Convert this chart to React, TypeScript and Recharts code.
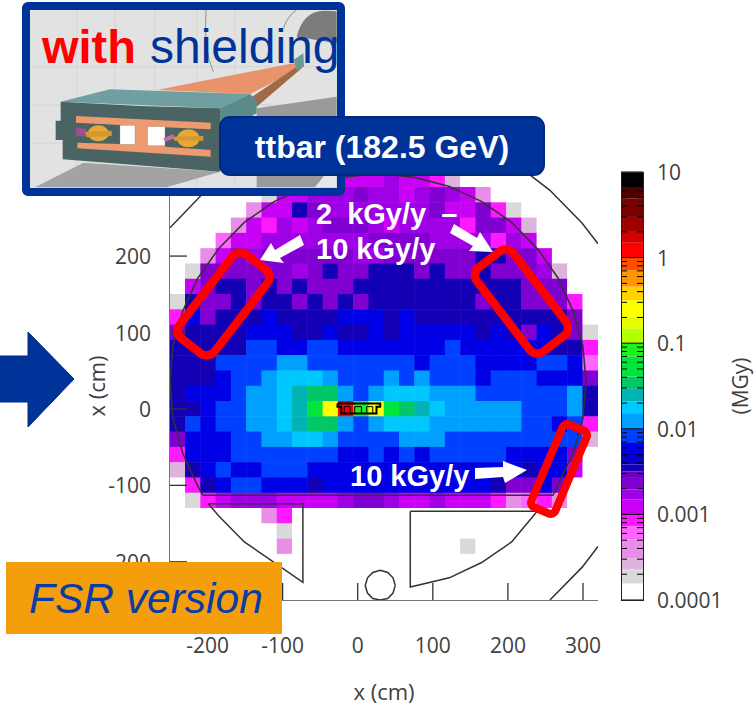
import React from 'react';
import {
  ScatterChart,
  Scatter,
  BarChart,
  Bar,
  XAxis,
  YAxis
} from 'recharts';

// palette bands of the colour bar, bottom to top
const bandCodes = 'abcdefghijklmnopqrstuvwxyzABCDEF';
const bandColors = [
  '#ffffff', '#d9d9d9', '#dcb4dc', '#e88ee8', '#ff66ff', '#ff19ff', '#c800f5', '#a000e6',
  '#8000d2', '#6a00b8', '#1400b4', '#0a00c8', '#0000e6', '#0040ff', '#00a0ff', '#00c8ff',
  '#00b4b4', '#00c864', '#00e63c', '#1ef01e', '#b4ff00', '#e6ff00', '#ffff00', '#ffd200',
  '#ff9600', '#ff5000', '#ff0000', '#d20000', '#a00000', '#780000', '#500000', '#000000'
];
// top of each band, in decades above 0.0001 MGy
const bandTops = [
  0.194, 0.357, 0.486, 0.707, 0.862, 1.0, 1.173, 1.29,
  1.426, 1.503, 1.581, 1.717, 1.834, 2.0, 2.183, 2.32,
  2.475, 2.61, 2.844, 3.0, 3.174, 3.31, 3.504, 3.66,
  3.854, 4.0, 4.173, 4.3, 4.475, 4.69, 4.825, 5.0
];

// dose map, one band code per bin, top row first
const doseRows = [
  'aaaaaaabdfgggghggfcaaaaaaaaa',
  'aaaaaabgghhhihhghihgdaaaaaaa',
  'aaaaadggkihhhhhhhiggifbaaaaa',
  'aaaadgfhghiiihghhhhfiigcaaaa',
  'aaaegghhhhhhhiiiihhhhfhgaaaa',
  'aadgihiiiiiihhiiiiiikkiigaaa',
  'abiiiiiihikiikkkikiikiiihcaa',
  'agikkikikiiikkkkkkkkkkkiiiaa',
  'bkiikikkikikikkkkkkkikkiiifa',
  'fmikkkmkkkkmmmkmkkkkkkkkkkia',
  'ikkkkmmmkkmkkmkmmmmmkmkimkib',
  'kkkkknnmmnnmmmmmmmnmmmmmmkkf',
  'kkknnnnoonnnnnnnmnnnmmmmnnme',
  'kkkmnnopppo' + 'nnnononnn' + 'mnnnmmmi',
  'kmmmnoopqrronopppooonnnnnnok',
  'kkmnnoopqswAtwsrqpooooonnnok',
  'knmnnoopqrronopppoooooonnmnf',
  'immmnnooppo' + 'nnnnooo' + 'nnnnnnnnnc',
  'fmmmnnnnnnnmmnmnmnnnnnmmmmia',
  'ckmnmmnnnmmmmmmmmmmmmmmkmmga',
  'afkmnnmmmkmmmmmmmmmmmkiimiaa',
  'abfghhhgggghiihgghgggfdefdaa',
  'aaaaaadfaaaaaaaaaaaaaaaaaaaa',
  'aaaaaaabaaaaaaaaaaaaaaaaaaaa',
  'aaaaaaadaaaaaaaaaaabaaaaaaaa',
  'aaaaaaaaaaaaaaaaaaaaaaaaaaaa',
  'aaaaaaaaaaaaaaaaaaaaaaaaaaaa',
  'aaaaaaaaaaaaaaaaaaaaaaaaaaaa'
];

const xRange = [-250, 320];
const yRange = [-250, 310];
const xTicks = [-200, -100, 0, 100, 200, 300];
const yTicks = [-200, -100, 0, 100, 200, 300];
const colorbarLabels = ['0.0001', '0.001', '0.01', '0.1', '1', '10'];
const minorSteps = [2, 3, 4, 5, 6, 7, 8, 9];

// machine outline (cm)
const tunnelOutline = [
  { x: -206, y: -113 }, { x: -213, y: -101 }, { x: -233, y: -58 }, { x: -246, y: -12 }, { x: -250, y: 35 },
  { x: -246, y: 82 }, { x: -233, y: 128 }, { x: -213, y: 171 }, { x: -185, y: 210 }, { x: -151, y: 244 },
  { x: -112, y: 271 }, { x: -68, y: 291 }, { x: -21, y: 303 }, { x: 27, y: 308 }, { x: 75, y: 303 },
  { x: 122, y: 291 }, { x: 166, y: 271 }, { x: 205, y: 244 }, { x: 239, y: 210 }, { x: 267, y: 171 },
  { x: 287, y: 128 }, { x: 300, y: 82 }, { x: 304, y: 35 }, { x: 300, y: -12 }, { x: 287, y: -58 },
  { x: 260, y: -113 }, { x: -206, y: -113 }
];
const leftBay = [
  { x: -199, y: -124 }, { x: -73, y: -124 }, { x: -73, y: -227 }, { x: -111, y: -201 },
  { x: -151, y: -174 }, { x: -185, y: -140 }, { x: -199, y: -124 }
];
const rightBay = [
  { x: 70, y: -134 }, { x: 239, y: -134 }, { x: 205, y: -174 }, { x: 165, y: -201 },
  { x: 122, y: -221 }, { x: 70, y: -233 }, { x: 70, y: -134 }
];
const wallTopRight = [{ x: 223, y: 310 }, { x: 231, y: 305 }, { x: 256, y: 286 }, { x: 299, y: 243 }, { x: 320, y: 216 }];
const wallTopLeft = [{ x: -169, y: 310 }, { x: -177, y: 305 }, { x: -202, y: 286 }, { x: -250, y: 237 }];
const wallBottomLeft = [{ x: -250, y: -201 }, { x: -225, y: -227 }, { x: -202, y: -250 }];
const wallBottomRight = [{ x: 320, y: -180 }, { x: 299, y: -207 }, { x: 256, y: -250 }];
const ringOutline = [
  { x: 50, y: -231 }, { x: 47, y: -221 }, { x: 40, y: -214 }, { x: 30, y: -211 }, { x: 20, y: -214 },
  { x: 13, y: -221 }, { x: 10, y: -231 }, { x: 13, y: -241 }, { x: 20, y: -248 }, { x: 30, y: -250 },
  { x: 40, y: -248 }, { x: 47, y: -241 }, { x: 50, y: -231 }
];
const magnetOutline = [
  { x: -27, y: 7 }, { x: 30, y: 7 }, { x: 30, y: 3 }, { x: 25, y: 3 }, { x: 25, y: -6 }, { x: -22, y: -6 },
  { x: -22, y: 3 }, { x: -27, y: 3 }, { x: -27, y: 7 }
];
const magnetInner = [
  { x: -18, y: -6 }, { x: -18, y: 3 }, { x: -10, y: 3 }, { x: -10, y: -6 }, { x: -4, y: -6 }, { x: -4, y: 3 },
  { x: 5, y: 3 }, { x: 5, y: -6 }, { x: 12, y: -6 }, { x: 12, y: 3 }, { x: 20, y: 3 }, { x: 20, y: -6 }
];

const binWidth = (xRange[1] - xRange[0]) / 28;
const binHeight = (yRange[1] - yRange[0]) / 28;

const cells = doseRows.flatMap((row, r) =>
  row.split('').map((code, c) => ({
    x: xRange[0] + binWidth * (c + 0.5),
    y: yRange[1] - binHeight * (r + 0.5),
    fill: bandColors[bandCodes.indexOf(code)]
  }))
);

const colorbarRow: Record<string, any> = { name: 'dose' };
bandTops.forEach((top, i) => {
  colorbarRow['b' + i] = top - (i === 0 ? 0 : bandTops[i - 1]);
});

const colorbarTicks = [0, 1, 2, 3, 4, 5];
const colorbarMinor = [0, 1, 2, 3, 4].flatMap(d => minorSteps.map(k => d + Math.log10(k)));

const chartFont = '"Open Sans", sans-serif';
const slideFont = '"Liberation Sans", Arial, sans-serif';
const slideBlue = '#003399';
const textColor = '#404040';

const HeatCell = (props: any) => {
  const size = 15.8;
  return <rect x={props.cx - size / 2} y={props.cy - size / 2} width={size} height={size} fill={props.payload.fill} />;
};
const NoMark = () => <g />;

const BottomTick = ({ x, y, payload }: any) => (
  <g>
    <line x1={x} x2={x} y1={y} y2={y - 17} stroke="#333" strokeWidth={1.3} />
    <text x={x} y={y + 53} textAnchor="middle" fontFamily={chartFont} fontSize={21} fill={textColor}>{payload.value}</text>
  </g>
);
const TopTick = ({ x, y }: any) => <line x1={x} x2={x} y1={y} y2={y + 14} stroke="#333" strokeWidth={1.3} />;
const LeftTick = ({ x, y, payload }: any) => (
  <g>
    <line x1={x} x2={x + 17} y1={y} y2={y} stroke="#333" strokeWidth={1.3} />
    <text x={x - 19} y={y + 8} textAnchor="end" fontFamily={chartFont} fontSize={21} fill={textColor}>{payload.value}</text>
  </g>
);
const RightTick = ({ x, y }: any) => <line x1={x} x2={x - 17} y1={y} y2={y} stroke="#333" strokeWidth={1.3} />;

const ColorbarTick = ({ x, y, payload }: any) => {
  const v = payload.value;
  const major = colorbarTicks.includes(v);
  return (
    <g>
      {major ? (
        <line x1={x - 22} x2={x} y1={y} y2={y} stroke="#000" strokeWidth={1} />
      ) : (
        <g>
          <line x1={x - 22} x2={x - 16} y1={y} y2={y} stroke="#000" strokeWidth={1} />
          <line x1={x - 6} x2={x} y1={y} y2={y} stroke="#000" strokeWidth={1} />
        </g>
      )}
      {major && (
        <text x={x + 14} y={y + 8} fontFamily={chartFont} fontSize={21} fill={textColor}>{colorbarLabels[v]}</text>
      )}
    </g>
  );
};

const outlines = [tunnelOutline, leftBay, rightBay, wallTopRight, wallTopLeft, wallBottomLeft, wallBottomRight, ringOutline];

const Illustration = () => (
  <g>
    <rect x={26} y={6} width={315} height={186} fill="#e2e2e2" stroke={slideBlue} strokeWidth={8} rx={2} />
    <g transform="scale(0.33333)">
      {/* backdrop grid */}
      <path d="M230 30 V560 M345 30 V560 M465 30 V560 M590 30 V560 M705 30 V560 M90 200 H1010 M90 315 H1010 M90 430 H1010" stroke="#cfcfcf" strokeWidth={2} fill="none" />
      {/* tunnel */}
      <path d="M890 110 Q910 30 975 32 L1010 34 L1010 130 Z" fill="#7c7c7c" />
      <path d="M618 30 Q610 150 640 215 M850 85 Q865 45 890 30" fill="none" stroke="#666" strokeWidth={2} />
      <polygon points="105,562 250,488 660,515 500,562" fill="#a3a3a3" />
      <polygon points="770,325 1010,290 1010,562 770,562" fill="#9a9a9a" />
      <polygon points="945,562 1010,480 1010,562" fill="#e8e8e8" />
      {/* beam line */}
      <polygon points="470,270 880,190 900,205 750,282" fill="#e8936c" />
      <polygon points="750,295 890,200 905,205 770,320" fill="#a06a48" />
      <polygon points="880,180 910,160 912,200 890,210" fill="#6a9a98" />
      {/* shield */}
      <polygon points="182,305 330,268 750,282 660,325 420,315" fill="#6f9fa0" />
      <polygon points="660,325 750,282 770,300 770,340 660,400" fill="#5a8a8a" />
      <polygon points="182,305 420,318 660,325 660,515 188,478 188,420 167,420 167,362 182,362" fill="#4a6464" />
      <polygon points="228,348 632,368 632,388 495,382 495,440 632,450 632,470 232,445 232,428 360,432 360,375 228,368" fill="#ee9a70" />
      <rect x={360} y={376} width={45} height={57} fill="#fff" stroke="#888" />
      <rect x={443} y={380} width={52} height={57} fill="#fff" stroke="#888" />
      <rect x={228} y={385} width={30} height={24} fill="#a0508a" />
      <ellipse cx={295} cy={400} rx={32} ry={24} fill="#e8a838" />
      <polygon points="255,395 335,392 335,408 260,412" fill="#d89830" />
      <polygon points="490,415 520,402 522,415 495,425" fill="#c070b0" />
      <ellipse cx={565} cy={415} rx={34} ry={27} fill="#e8a838" />
      <polygon points="520,410 610,408 610,422 522,422" fill="#d89830" />
    </g>
    <text x={42} y={63} fontFamily={slideFont} fontSize={47} fontWeight="bold" fill="#ff0000">with</text>
    <text x={150} y={63} fontFamily={slideFont} fontSize={48} fill={slideBlue}>shielding</text>
  </g>
);

const Overlay = () => (
  <svg width={755} height={710} style={{ position: 'absolute', left: 0, top: 0 }}>
    <Illustration />
    <rect x={220} y={117} width={324} height={58} rx={10} fill={slideBlue} stroke="#002a80" strokeWidth={2} />
    <text x={382} y={158} textAnchor="middle" fontFamily={slideFont} fontSize={32} fontWeight="bold" fill="#fff">ttbar (182.5 GeV)</text>

    <polygon points="0,356 28,356 28,332 74,379 28,427 28,402 0,402" fill={slideBlue} stroke="#002a80" strokeWidth={1} />

    <text transform="translate(105,386) rotate(-90)" textAnchor="middle" fontFamily={chartFont} fontSize={22} fill={textColor}>x (cm)</text>
    <text x={384} y={700} textAnchor="middle" fontFamily={chartFont} fontSize={22} fill={textColor}>x (cm)</text>
    <text transform="translate(748,386) rotate(-90)" textAnchor="middle" fontFamily={chartFont} fontSize={21} fill={textColor}>(MGy)</text>

    <rect x={-22} y={-53} width={44} height={106} rx={10} transform="translate(223.5,304) rotate(37.7)" fill="none" stroke="#ff0000" strokeWidth={8.5} />
    <rect x={-23} y={-53} width={46} height={106} rx={10} transform="translate(521.5,301.5) rotate(-37.6)" fill="none" stroke="#ff0000" strokeWidth={8.5} />
    <rect x={-13} y={-45} width={26} height={90} rx={5} transform="translate(559,469) rotate(23)" fill="none" stroke="#ff0000" strokeWidth={8} />

    <polygon points="260,260 271,243 275,250 300,235 304,245 280,258 284,263" fill="#fff" />
    <polygon points="493,252 480,232 477,238 454,224 450,233 473,246 469,251" fill="#fff" />
    <polygon points="527,470 503,461 503,467 475,468 475,479 503,477 505,483" fill="#fff" />

    <text x={316} y={224} fontFamily={slideFont} fontSize={29} fontWeight="bold" fill="#fff" style={{ wordSpacing: 7 }}>2 kGy/y –</text>
    <text x={316} y={259} fontFamily={slideFont} fontSize={29} fontWeight="bold" fill="#fff">10 kGy/y</text>
    <text x={350} y={486} fontFamily={slideFont} fontSize={29} fontWeight="bold" fill="#fff">10 kGy/y</text>

    <rect x={6} y={562} width={276} height={72} fill="#f59e0b" />
    <text x={29} y={613} fontFamily={slideFont} fontSize={42.5} fontStyle="italic" fill="#0a3ca8">FSR version</text>
  </svg>
);

export default function App() {
  return (
    <div style={{ position: 'absolute', left: 0, top: 0, width: 755, height: 710, background: '#fff', overflow: 'hidden' }}>
      <div style={{ position: 'absolute', left: 0, top: 0 }}>
        <ScatterChart width={755} height={710} margin={{ top: 172, right: 157, bottom: 50, left: 110 }}>
          <XAxis type="number" dataKey="x" xAxisId="main" domain={xRange} ticks={xTicks} height={60} tickSize={0} tickMargin={0} tickLine={false} tick={<BottomTick />} interval={0} allowDataOverflow axisLine={{ stroke: '#444', strokeWidth: 1.5 }} />
          <XAxis type="number" dataKey="x" xAxisId="top" orientation="top" domain={xRange} ticks={xTicks} height={0} tickSize={0} tickMargin={0} tickLine={false} tick={<TopTick />} interval={0} allowDataOverflow axisLine={{ stroke: '#444', strokeWidth: 1.5 }} />
          <YAxis type="number" dataKey="y" yAxisId="main" domain={yRange} ticks={yTicks} width={60} tickSize={0} tickMargin={0} tickLine={false} tick={<LeftTick />} interval={0} allowDataOverflow axisLine={{ stroke: '#444', strokeWidth: 1.5 }} />
          <YAxis type="number" dataKey="y" yAxisId="right" orientation="right" domain={yRange} ticks={yTicks} width={0} tickSize={0} tickMargin={0} tickLine={false} tick={<RightTick />} interval={0} allowDataOverflow axisLine={{ stroke: '#444', strokeWidth: 1.5 }} />
          <Scatter data={cells} xAxisId="main" yAxisId="main" shape={<HeatCell />} isAnimationActive={false} />
          <Scatter data={cells.slice(0, 1)} xAxisId="top" yAxisId="right" shape={<NoMark />} isAnimationActive={false} />
          {outlines.map((pts, i) => (
            <Scatter key={i} data={pts} xAxisId="main" yAxisId="main" shape={<NoMark />} line={{ stroke: '#333', strokeWidth: 1.5 }} lineType="joint" isAnimationActive={false} />
          ))}
          <Scatter data={magnetOutline} xAxisId="main" yAxisId="main" shape={<NoMark />} line={{ stroke: '#000', strokeWidth: 2 }} lineType="joint" isAnimationActive={false} />
          <Scatter data={magnetInner} xAxisId="main" yAxisId="main" shape={<NoMark />} line={{ stroke: '#000', strokeWidth: 1 }} lineType="joint" isAnimationActive={false} />
        </ScatterChart>
      </div>
      <div style={{ position: 'absolute', left: 560, top: 0 }}>
        <BarChart width={195} height={710} data={[colorbarRow]} barCategoryGap={0} margin={{ top: 172, right: 0, bottom: 110, left: 61 }}>
          <XAxis dataKey="name" hide />
          <YAxis type="number" orientation="right" domain={[0, 5]} ticks={[...colorbarTicks, ...colorbarMinor]} width={112} tickSize={0} tickMargin={0} tickLine={false} axisLine={false} tick={<ColorbarTick />} interval={0} allowDataOverflow />
          {bandColors.map((color, i) => (
            <Bar key={i} dataKey={'b' + i} stackId="band" fill={color} isAnimationActive={false} />
          ))}
        </BarChart>
      </div>
      <div style={{ position: 'absolute', left: 621, top: 172, width: 21, height: 427, border: '1.5px solid #222' }} />
      <Overlay />
    </div>
  );
}
